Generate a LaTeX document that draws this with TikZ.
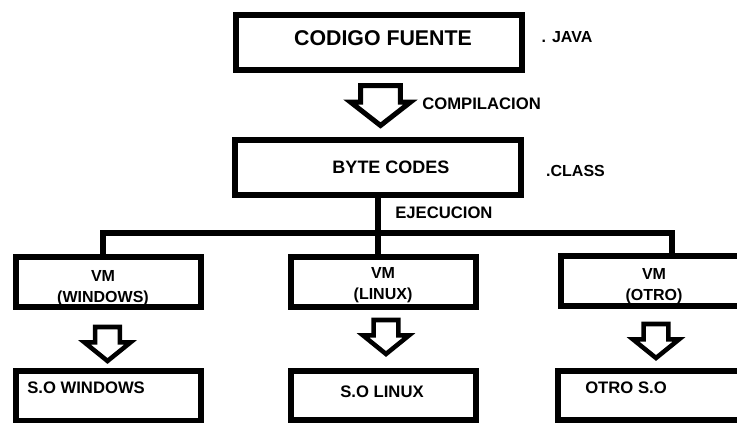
\documentclass[tikz,border=0pt]{standalone}
\usepackage{fontspec}
\setmainfont{Liberation Sans}
\usetikzlibrary{positioning}
\usetikzlibrary{calc}
\usetikzlibrary{shapes.arrows}
\tikzstyle{box} = [rectangle, draw=black, line width=4.5pt, inner sep=0pt]
\tikzstyle{bigbox} = [box, minimum width=214.5pt, minimum height=41.25pt]
\tikzstyle{smallbox} = [box, minimum width=138.75pt, minimum height=37.1pt]
\tikzstyle{down} = [single arrow, draw=black, rotate=-90, anchor=tail, inner xsep=0pt]
\tikzstyle{smalldown} = [down, line width=3.4pt, inner ysep=7.6pt, minimum height=25.5pt, single arrow head extend=8pt, single arrow tip angle=102]
\tikzstyle{txt} = [inner sep=0pt, font=\bfseries\fontsize{12.5}{15}\selectfont]
\tikzstyle{vmtxt} = [txt, align=center, font=\bfseries\fontsize{12}{15.5}\selectfont]
\tikzstyle{wire} = [line width=4.5pt, draw=black]

\begin{document}
\begin{tikzpicture}[x=0.75pt, y=-0.75pt]
    \path[use as bounding box, clip] (0,0) rectangle (737,422);

    % --- top part ---

    % codigo fuente box
    \node[bigbox] at (379, 42.5) (src) {};
    \node[txt, font=\bfseries\fontsize{16}{18}\selectfont] at ($(src.center) + (4, -4.5)$) (src_text) {CODIGO FUENTE};

    % .java on the right of codigo fuente
    \node[txt, font=\bfseries\fontsize{12}{14}\selectfont] at ($(src.east) + (42, -5.5)$) (java_text) {. JAVA};

    % big hollow arrow below codigo fuente
    \node[
        down, line width=3.75pt, inner ysep=13pt, minimum height=30pt,
        single arrow head extend=7.5pt, single arrow tip angle=104
    ] at ($(src.south) + (1.5, 10)$) (compile_arrow) {};

    % compilacion text right of the arrow
    \node[txt, anchor=west] at ($(src.south) + (43, 31)$) (compile_text) {COMPILACION};

    % byte codes box
    \node[bigbox] at ($(src.center) + (-1.5, 125)$) (byte) {};
    \node[txt, font=\bfseries\fontsize{13.5}{16}\selectfont] at ($(byte.center) + (13.5, -0.5)$) (byte_text) {BYTE CODES};

    % .class on the right of byte codes
    \node[txt, font=\bfseries\fontsize{12}{14}\selectfont] at ($(byte.east) + (52, 3.5)$) (class_text) {.CLASS};

    % ejecucion next to the line below byte codes
    \node[txt, anchor=west] at ($(byte.south) + (17.5, 15)$) (exec_text) {EJECUCION};

    % --- virtual machines ---

    % vm boxes
    \node[smallbox] at ($(byte.center) + (6, 114.5)$) (vm_linux) {};
    \node[smallbox] at ($(vm_linux.center) + (-275, 0)$) (vm_windows) {};
    \node[smallbox] at ($(vm_linux.center) + (270, -1)$) (vm_otro) {};

    % vm texts
    \node[vmtxt] at ($(vm_windows.center) + (-5.5, 6)$) (vm_windows_text) {VM\\(WINDOWS)};
    \node[vmtxt] at ($(vm_linux.center) + (-0.5, 3)$) (vm_linux_text) {VM\\(LINUX)};
    \node[vmtxt] at ($(vm_otro.center) + (0.5, 5)$) (vm_otro_text) {VM\\(OTRO)};

    % lines from byte codes to the vm boxes
    \coordinate (bus) at ($(byte.south) + (0, 34.5)$);
    \draw[wire] (byte.south) -- (byte.south |- vm_linux.north);
    \draw[wire] ($(vm_windows.north) + (-5.5, 0)$) |- (bus) -| ($(vm_otro.north) + (18.5, 0)$);

    % --- operating systems ---

    % small arrows below the vm boxes
    \node[smalldown] at ($(vm_windows.south) + (-1, 15)$) (arrow_windows) {};
    \node[smalldown] at ($(vm_linux.south) + (2.5, 8)$) (arrow_linux) {};
    \node[smalldown] at ($(vm_otro.south) + (2.5, 13)$) (arrow_otro) {};

    % so boxes
    \node[smallbox] at ($(vm_windows.center) + (0, 114)$) (so_windows) {};
    \node[smallbox] at ($(vm_linux.center) + (0, 113.5)$) (so_linux) {};
    \node[smallbox] at ($(vm_otro.center) + (-3, 114.5)$) (so_otro) {};

    % so texts
    \node[txt, anchor=west] at ($(so_windows.west) + (14, -8.5)$) (so_windows_text) {S.O WINDOWS};
    \node[txt] at ($(so_linux.center) + (-1.5, -3.5)$) (so_linux_text) {S.O LINUX};
    \node[txt, anchor=west] at ($(so_otro.west) + (30, -7.5)$) (so_otro_text) {OTRO S.O};

\end{tikzpicture}
\end{document}
